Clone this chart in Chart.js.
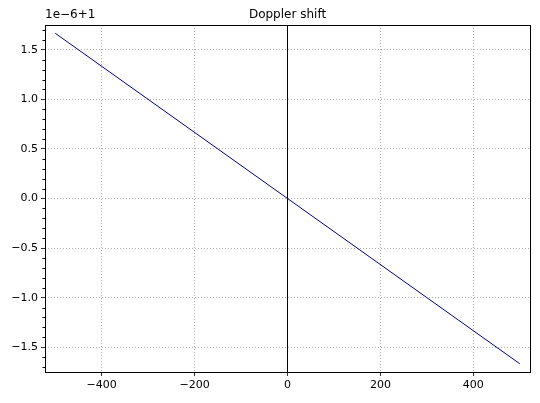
<!DOCTYPE html>
<html>
<head>
<meta charset="utf-8">
<script src="https://cdn.jsdelivr.net/npm/chart.js@4"></script>
<style>
html, body { margin: 0; padding: 0; background: #fff; }
</style>
</head>
<body>
<canvas id="chart" width="540" height="403"></canvas>
<script>
// velocity (m/s) and doppler factor minus 1, in units of 1e-6
const velocities = [-500, 500];
const shiftValues = [1.6667, -1.6667];
const xTicks = [-400, -200, 0, 200, 400];
const yTicks = [-1.5, -1.0, -0.5, 0.0, 0.5, 1.0, 1.5];
const xRange = [-522, 522];
const yRange = [-1.75, 1.75];

const extras = {
    id: 'extras',
    afterDraw(chart) {
        const ctx = chart.ctx;
        const a = chart.chartArea;
        const y = chart.scales.y;
        ctx.save();
        ctx.strokeStyle = '#000';
        ctx.lineWidth = 1;
        // minor ticks on the y axis
        for (let v = -17; v <= 17; v++) {
            if (v % 5 === 0) continue;
            const py = Math.round(y.getPixelForValue(v / 10)) + 0.5;
            ctx.beginPath();
            ctx.moveTo(a.left, py);
            ctx.lineTo(a.left - 2.5, py);
            ctx.stroke();
        }
        ctx.strokeRect(a.left + 0.5, a.top + 0.5, a.right - a.left, a.bottom - a.top);
        ctx.fillStyle = '#000';
        ctx.font = '12px "DejaVu Sans"';
        ctx.textBaseline = 'bottom';
        ctx.textAlign = 'center';
        ctx.fillText('Doppler shift', (a.left + a.right) / 2, a.top - 4);
        ctx.textAlign = 'left';
        ctx.fillText('1e\u22126+1', a.left, a.top - 4);
        ctx.restore();
    }
};

new Chart(document.getElementById('chart'), {
    type: 'line',
    data: {
        datasets: [{
            data: velocities.map((v, i) => ({ x: v, y: shiftValues[i] })),
            borderColor: '#000080',
            borderWidth: 1,
            pointRadius: 0
        }, {
            data: [{ x: 0, y: yRange[0] }, { x: 0, y: yRange[1] }],
            borderColor: '#000',
            borderWidth: 1,
            pointRadius: 0
        }]
    },
    options: {
        responsive: false,
        animation: false,
        devicePixelRatio: 1,
        layout: { padding: { top: 25, right: 10, left: 0, bottom: 0 } },
        plugins: { legend: { display: false }, tooltip: { enabled: false } },
        scales: {
            x: {
                type: 'linear',
                min: xRange[0], max: xRange[1],
                afterFit(s) { s.height = 31; },
                afterBuildTicks(s) { s.ticks = xTicks.map(v => ({ value: v })); },
                border: { display: false, dash: [1, 2] },
                grid: { color: '#999', lineWidth: 0.8, tickColor: '#000', tickLength: 4 },
                ticks: { color: '#000', font: { family: 'DejaVu Sans', size: 11 },
                    callback: v => String(v).replace('-', '\u2212'), maxRotation: 0 }
            },
            y: {
                type: 'linear',
                min: yRange[0], max: yRange[1],
                afterFit(s) { s.width = 45; },
                afterBuildTicks(s) { s.ticks = yTicks.map(v => ({ value: v })); },
                border: { display: false, dash: [1, 2] },
                grid: { color: '#999', lineWidth: 0.8, tickColor: '#000', tickLength: 4 },
                ticks: { color: '#000', font: { family: 'DejaVu Sans', size: 11 },
                    callback: v => v.toFixed(1).replace('-', '\u2212') }
            }
        }
    },
    plugins: [extras]
});
</script>
</body>
</html>
